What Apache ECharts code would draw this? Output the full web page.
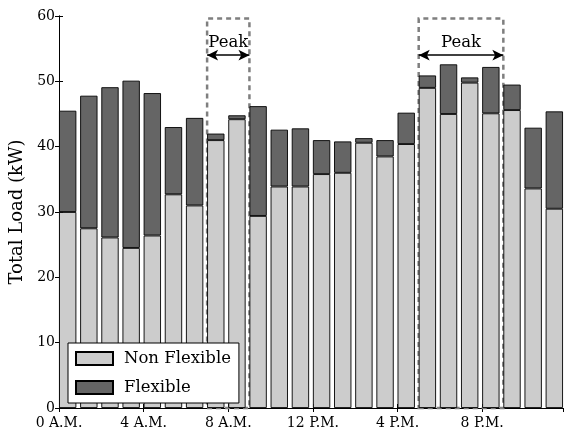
<!DOCTYPE html>
<html>
<head>
<meta charset="utf-8">
<script src="https://cdn.jsdelivr.net/npm/echarts@6/dist/echarts.min.js"></script>
<style>html,body{margin:0;padding:0;background:#fff}#c{width:565px;height:432px}</style>
</head>
<body>
<div id="c"></div>
<script>
// Hours of the day (bar left edge at each hour)
const hours = [0,1,2,3,4,5,6,7,8,9,10,11,12,13,14,15,16,17,18,19,20,21,22,23];
// Non flexible load (kW)
const nonFlexible = [30.0,27.5,26.1,24.5,26.4,32.7,31.0,41.0,44.2,29.4,33.9,33.9,35.8,36.0,40.6,38.5,40.4,49.0,45.0,49.8,45.1,45.6,33.6,30.5];
// Total load (kW)
const totalLoad = [45.5,47.8,49.1,50.1,48.2,43.0,44.4,42.0,44.8,46.2,42.6,42.8,41.0,40.8,41.3,41.0,45.2,50.9,52.6,50.6,52.2,49.5,42.9,45.4];
// Flexible load = total - non flexible
const flexible = totalLoad.map((t, i) => +(t - nonFlexible[i]).toFixed(2));
// Tick labels for x axis
const tickValues = [0,4,8,12,16,20];
const tickLabels = ['0 A.M.','4 A.M.','8 A.M.','12 P.M.','4 P.M.','8 P.M.'];
// Peak windows [start, end] hours
const peaks = [[7,9],[17,21]];
const peakArrowY = 54;

const FONT = 'DejaVu Serif';
const chart = echarts.init(document.getElementById('c'));
const barOffset = 0.41;

const axisCommon = {
  axisLine: {show: true, lineStyle: {color: '#000', width: 1}},
  axisTick: {show: true, inside: true, length: 4, lineStyle: {color: '#000', width: 1}},
  splitLine: {show: false}
};

chart.setOption({
  animation: false,
  grid: {left: 59, right: 2, top: 16, bottom: 24},
  xAxis: [
    Object.assign({
      type: 'value', min: 0, max: 23.82, interval: 4, position: 'bottom',
      axisLabel: {
        show: true, margin: 8, color: '#000', fontFamily: FONT, fontSize: 14,
        showMaxLabel: false,
        formatter: v => { const k = tickValues.indexOf(v); return k >= 0 ? tickLabels[k] : ''; }
      }
    }, axisCommon),
    Object.assign({
      type: 'value', min: 0, max: 23.82, interval: 4, position: 'top',
      axisLabel: {show: false}
    }, axisCommon)
  ],
  yAxis: [
    Object.assign({
      type: 'value', min: 0, max: 60, interval: 10, position: 'left',
      name: 'Total Load (kW)', nameLocation: 'middle', nameGap: 31,
      nameTextStyle: {color: '#000', fontFamily: FONT, fontSize: 18},
      axisLabel: {show: true, margin: 4, color: '#000', fontFamily: FONT, fontSize: 14}
    }, axisCommon),
    Object.assign({
      type: 'value', min: 0, max: 60, interval: 10, position: 'right',
      axisLabel: {show: false}
    }, axisCommon)
  ],
  legend: {
    show: true,
    left: 68, top: 343,
    orient: 'vertical',
    icon: 'rect',
    itemWidth: 37, itemHeight: 13, itemGap: 12,
    padding: [7, 8, 7, 7],
    borderColor: '#000', borderWidth: 1, backgroundColor: '#fff',
    textStyle: {color: '#000', fontFamily: FONT, fontSize: 16.5, padding: [0, 0, 0, 6]},
    data: ['Non Flexible', 'Flexible']
  },
  series: [
    {
      name: 'Non Flexible', type: 'bar', stack: 'total', barWidth: '82%',
      dimensions: ['load', 'hour'],
      encode: {x: 'hour', y: 'load'},
      data: hours.map((h, i) => [nonFlexible[i], h + barOffset]),
      itemStyle: {color: '#cccccc', borderColor: '#000', borderWidth: 0.9},
      markArea: {
        silent: true,
        itemStyle: {color: 'rgba(0,0,0,0)', borderColor: '#7f7f7f', borderWidth: 2.5, borderType: [5, 4]},
        data: peaks.map(p => [{coord: [p[0], 0]}, {coord: [p[1], 59.6]}])
      },
      z: 2
    },
    {
      name: 'Flexible', type: 'bar', stack: 'total', barWidth: '82%',
      dimensions: ['load', 'hour'],
      encode: {x: 'hour', y: 'load'},
      data: hours.map((h, i) => [flexible[i], h + barOffset]),
      itemStyle: {color: '#656565', borderColor: '#000', borderWidth: 0.9},
      markLine: {
        silent: true,
        symbol: ['arrow', 'arrow'], symbolSize: [8, 11],
        lineStyle: {color: '#000', width: 1.5, type: 'solid'},
        label: {show: true, position: 'middle', formatter: 'Peak', color: '#000', fontFamily: FONT, fontSize: 16.5, distance: 4},
        data: peaks.map(p => [{coord: [p[0], peakArrowY]}, {coord: [p[1], peakArrowY]}])
      },
      z: 2
    }
  ]
});
</script>
</body>
</html>
